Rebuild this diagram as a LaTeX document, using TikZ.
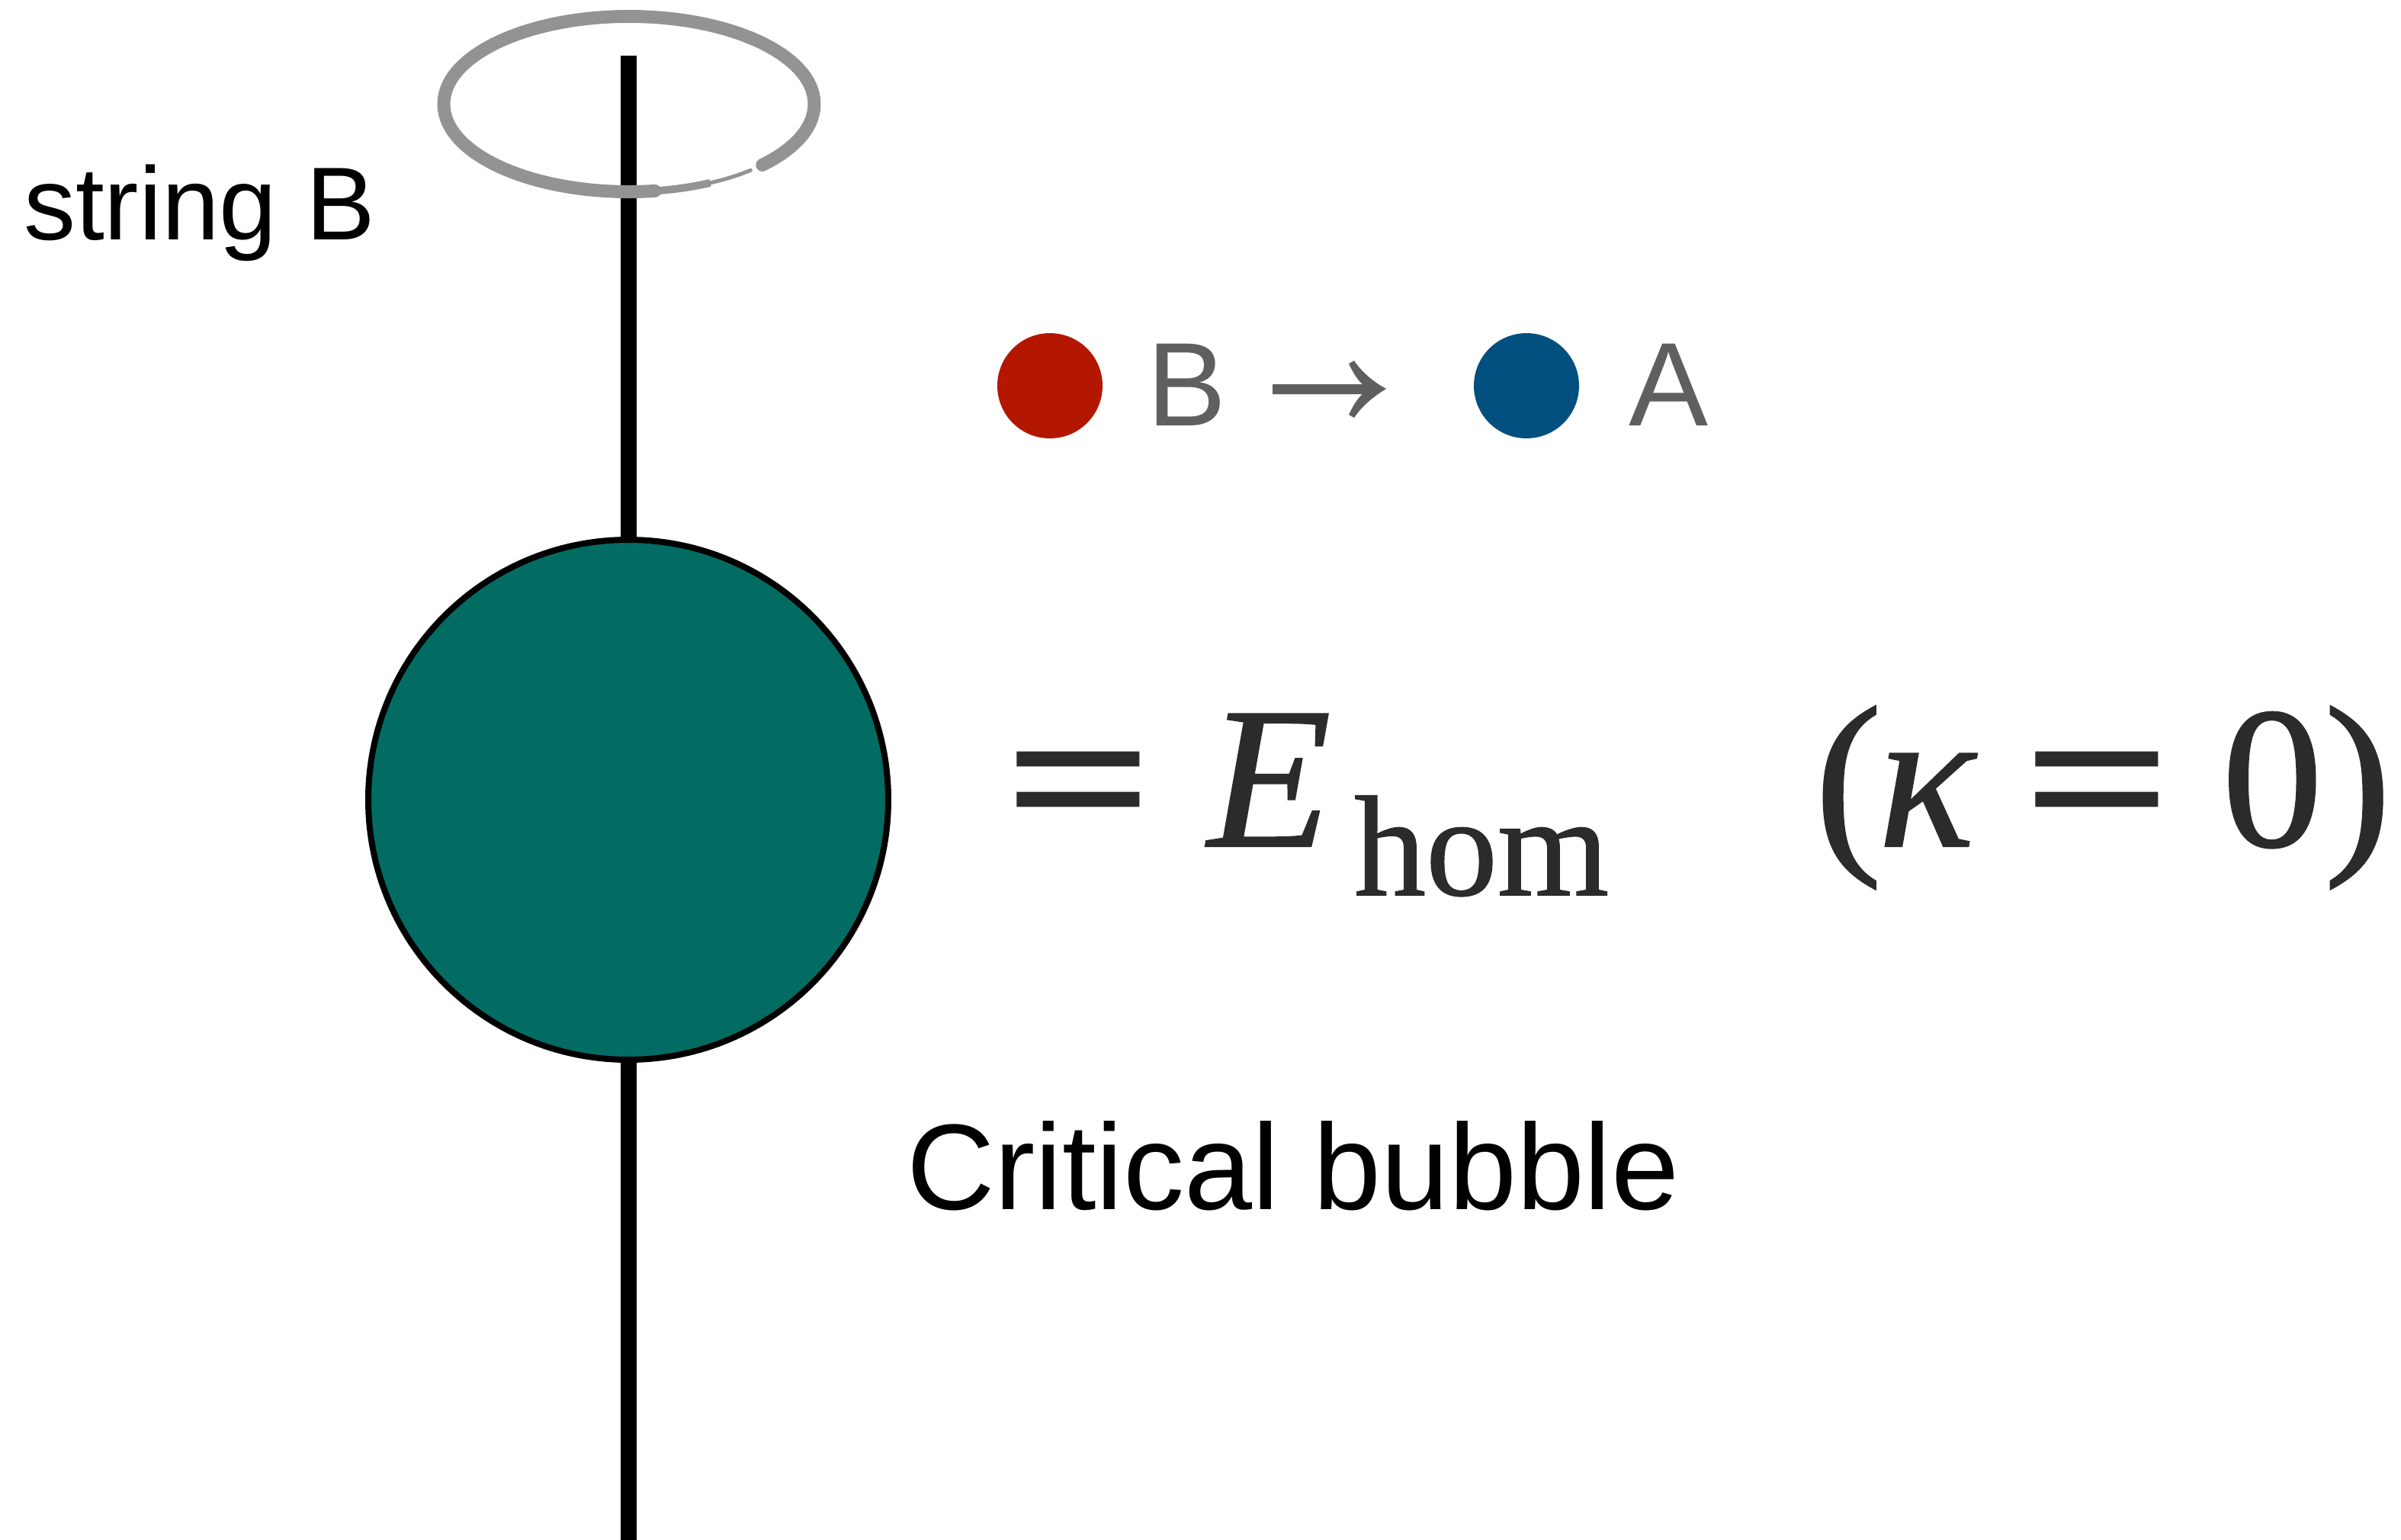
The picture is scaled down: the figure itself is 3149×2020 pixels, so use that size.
\documentclass[tikz,border=0pt]{standalone}
\usepackage{fontspec}
\newfontfamily\sansf{Liberation Sans}
\newfontfamily\seriff[FakeBold=0.8]{Liberation Serif}
\newfontfamily\eqbarf[FakeBold=2.5]{Liberation Serif}
\definecolor{bubteal}{HTML}{026C63}
\definecolor{dotred}{HTML}{B31700}
\definecolor{dotblue}{HTML}{02507F}
\definecolor{halo}{HTML}{939393}
\definecolor{txtgray}{HTML}{5F5F5F}
\definecolor{eqgray}{HTML}{2B2B2B}
\tikzset{
  lbl/.style={anchor=base west, inner sep=0pt, outer sep=0pt},
  eqtxt/.style={lbl, text=eqgray, font=\seriff\fontsize{265}{300}\selectfont},
  eqbar/.style={lbl, text=eqgray, font=\eqbarf\fontsize{265}{300}\selectfont},
  eqsub/.style={lbl, text=eqgray, font=\seriff\fontsize{188}{220}\selectfont},
  dot/.style={circle, inner sep=0pt, minimum size=138pt},
}
\begin{document}
\begin{tikzpicture}[x=1pt,y=-1pt]
\useasboundingbox (0,0) rectangle (3149,2020);
% string line
\coordinate (strtop) at (824,73);
\coordinate (strbot) at (824,2030);
\draw[line width=21pt] (strtop) -- (strbot);
% halo ellipse (brush stroke)
\coordinate (haloS) at (999.8,216.4);
\draw[halo, line width=17pt, line cap=round] (haloS) arc[start angle=44, end angle=-278, x radius=243, y radius=115] coordinate (haloM);
\draw[halo, line width=10pt] (haloM) arc[start angle=-278, end angle=-296, x radius=243, y radius=115] coordinate (haloN);
\draw[halo, line width=5pt, line cap=round] (haloN) arc[start angle=-296, end angle=-311, x radius=243, y radius=115];
% bubble
\node[circle, fill=bubteal, draw=black, line width=8pt, minimum size=682pt, inner sep=0pt] (bubble) at (824,1049) {};
% labels
\node[lbl, font=\sansf\fontsize{136}{160}\selectfont] (strlbl) at (31,314) {string B};
\node[lbl, font=\sansf\fontsize{160}{190}\selectfont] (critlbl) at (1189,1586) {Critical bubble};
% legend
\node[dot, fill=dotred] (reddot) at (1377,506) {};
\node[dot, fill=dotblue] (bluedot) at (2002,506) {};
\node[lbl, text=txtgray, font=\sansf\fontsize{156}{190}\selectfont] (lgB) at (1504,558) {B};
\node[lbl, text=txtgray, font=\sansf\fontsize{156}{190}\selectfont] (lgA) at (2136,558) {A};
\fill[txtgray] (1818,510) .. controls (1800,500) and (1786,488) .. (1776,473)
  -- (1769,477) .. controls (1775,490) and (1781,499) .. (1787,504)
  -- (1669,504) -- (1669,517) -- (1787,517)
  .. controls (1781,522) and (1775,531) .. (1769,544)
  -- (1776,548) .. controls (1786,533) and (1800,521) .. (1818,510) -- cycle;
% equation
\node[eqbar] (eq1) at (1321,1110) {\scalebox{1.24}[1]{=}};
\node[eqtxt] (eqE) at (1584,1110) {\itshape E};
\node[eqsub] (eqhom) at (1776,1174) {hom};
\node[eqtxt] (eqlp) at (2380,1110) {(};
\node[eqtxt] (eqk) at (2463,1110) {\itshape κ};
\node[eqbar] (eq2) at (2657,1110) {\scalebox{1.24}[1]{=}};
\node[eqtxt] (eq0) at (2914,1110) {0};
\node[eqtxt] (eqrp) at (3048,1110) {)};
\end{tikzpicture}
\end{document}
